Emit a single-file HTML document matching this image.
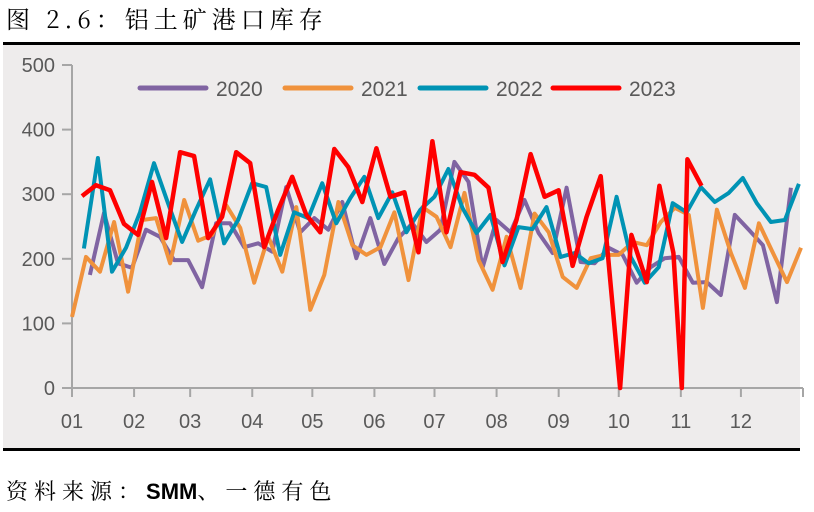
<!DOCTYPE html>
<html><head><meta charset="utf-8"><style>
body{margin:0;background:#fff;width:814px;height:507px;overflow:hidden;font-family:"Liberation Sans","Noto Sans CJK SC",sans-serif;}
</style></head><body>
<svg width="814" height="507" xmlns="http://www.w3.org/2000/svg">
<text x="6" y="28" font-size="24" letter-spacing="5" font-family="'Noto Serif CJK SC','Noto Sans CJK SC',serif" fill="#000">图 2.6：铝土矿港口库存</text>
<rect x="3" y="45" width="797" height="404" fill="#eeecec"/>
<rect x="3" y="42" width="797" height="3" fill="#000"/>
<rect x="3" y="448" width="797" height="3" fill="#000"/>
<text x="6" y="499" font-size="22" letter-spacing="6" font-family="'Noto Serif CJK SC','Noto Sans CJK SC',serif" fill="#000">资料来源：<tspan font-family="'Liberation Sans',sans-serif" font-weight="bold" letter-spacing="0">SMM</tspan>、一德有色</text>
<g id="axes"></g>
<g id="series"></g>
<g id="legend"></g>
</svg>
<script>
const yTicks=[0,100,200,300,400,500];
const monthLabels=["01","02","03","04","05","06","07","08","09","10","11","12"];
const monthStartDays=[0,31,59,90,120,151,181,212,243,273,304,334,365];
const seriesNames=["2020","2021","2022","2023"];
const seriesStartWeek=[1.28,0,0.85,0.71];
const s2020=[175,271,193,186,245,234,198,198,156,255,255,218,224,211,311,241,263,245,288,201,263,192,232,255,226,245,350,319,186,260,241,291,240,209,310,195,193,217,206,163,187,201,203,163,164,144,268,245,221,133,310];
const s2021=[110,203,180,257,149,260,263,193,291,228,237,283,248,163,234,180,280,121,175,288,221,206,218,272,167,280,265,218,302,198,152,234,155,270,241,172,155,201,206,206,226,221,257,279,268,124,276,209,155,255,209,164,217];
const s2022=[216,356,180,217,272,348,286,226,276,323,224,260,317,311,206,272,263,317,255,294,327,263,303,241,276,296,339,279,240,268,190,249,246,280,203,209,193,201,296,203,163,187,286,272,311,288,302,325,286,257,260,316];
const s2023=[297,314,306,254,237,319,232,365,359,232,265,365,348,218,276,327,268,241,370,342,288,371,296,303,210,382,241,334,330,310,195,260,362,296,306,189,265,328,0,237,164,313,209,0,354,313];
// 2023 late-year observations are irregularly dated (week-of-year)
const s2023TailWeeks=[39.1,39.9,41.0,41.9,42.9,43.5,43.9,44.9];
const seriesData=[s2020,s2021,s2022,s2023];
const colors=["#8064a2","#f0923c","#0093b4","#ff0000"];
const X0=72,X1=803,Y0=388,Y1=65;
const xDay=d=>X0+d/365*(X1-X0);
const xWeek=w=>xDay(w*7);
const y=v=>Y0-v/500*(Y0-Y1);
const NS="http://www.w3.org/2000/svg";
function mk(t,a,p){const e=document.createElementNS(NS,t);for(const k in a)e.setAttribute(k,a[k]);p.appendChild(e);return e;}
const axes=document.getElementById('axes');
let e=mk('line',{x1:X0,y1:Y1,x2:X0,y2:Y0,stroke:'#a6a6a6','stroke-width':2},axes);

e=mk('line',{x1:X0,y1:Y0,x2:X1,y2:Y0,stroke:'#a6a6a6','stroke-width':2},axes);

yTicks.forEach(v=>{
 const t=mk('line',{x1:X0-10,y1:y(v),x2:X0,y2:y(v),stroke:'#a6a6a6','stroke-width':2},axes);
 
 const l=mk('text',{x:X0-17,y:y(v)+7,'text-anchor':'end','font-size':20,fill:'#595959'},axes);
 l.textContent=v;
 
});
monthStartDays.forEach((d,i)=>{
 const t=mk('line',{x1:xDay(d),y1:Y0,x2:xDay(d),y2:Y0+9,stroke:'#a6a6a6','stroke-width':2},axes);
 
 if(i<12){const l=mk('text',{x:xDay(d),y:428,'text-anchor':'middle','font-size':20,fill:'#595959'},axes);
 l.textContent=monthLabels[i];
 }
});
const sg=document.getElementById('series');
seriesData.forEach((arr,si)=>{
 const regular=si==3?arr.length-s2023TailWeeks.length:arr.length;
 const pts=arr.map((v,i)=>{
   const w=i<regular?seriesStartWeek[si]+i:s2023TailWeeks[i-regular];
   return xWeek(w).toFixed(1)+','+y(v).toFixed(1);
 }).join(' ');
 const p=mk('polyline',{points:pts,fill:'none',stroke:colors[si],'stroke-width':si==3?4.5:4,'stroke-linejoin':'round'},sg);
 
});
const lg=document.getElementById('legend');
const lx=[140,285,420,553];
seriesNames.forEach((n,i)=>{
 const g=mk('g',{},lg);
 
 mk('line',{x1:lx[i],y1:88,x2:lx[i]+66,y2:88,stroke:colors[i],'stroke-width':5,'stroke-linecap':'round'},g);
 const t=mk('text',{x:lx[i]+76,y:96,'font-size':21,fill:'#595959'},g);
 t.textContent=n;
});
</script>
</body></html>
